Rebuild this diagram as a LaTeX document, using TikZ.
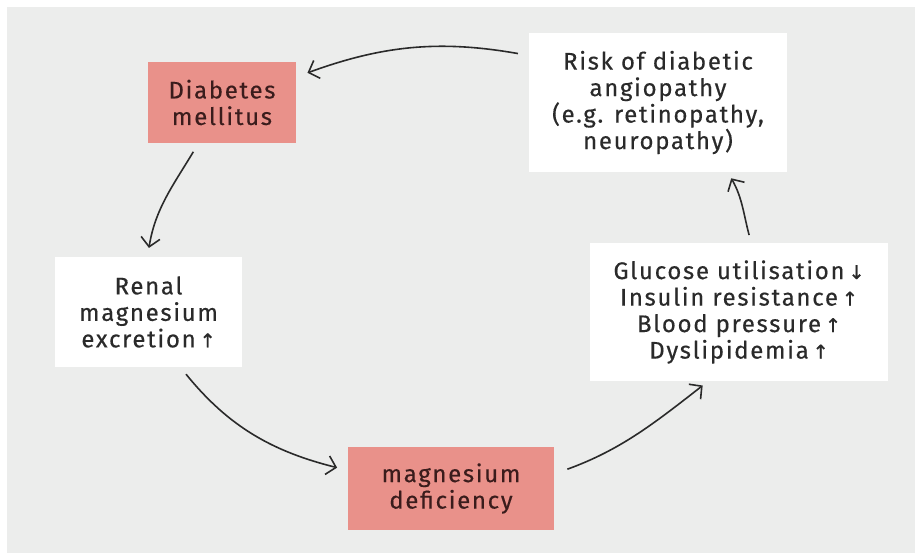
\documentclass[tikz,border=0pt]{standalone}
\usepackage{fontspec}
\setmainfont[LetterSpace=7,FakeBold=0.4]{Fira Sans}
\newfontfamily\arrfont[FakeBold=1.2]{DejaVu Sans}
\usetikzlibrary{arrows.meta}
\definecolor{bgcol}{HTML}{ECEDEC}
\definecolor{salmon}{HTML}{E9918A}
\definecolor{inkcol}{HTML}{2A2A2A}
\definecolor{redink}{HTML}{3A1C1C}
\newcommand{\arrUp}{{\arrfont\fontsize{19}{19}\selectfont ↑}}
\newcommand{\arrDown}{{\arrfont\fontsize{19}{19}\selectfont ↓}}
\begin{document}
\begin{tikzpicture}[x=1pt, y=-1pt,
  box/.style={rectangle, align=center, inner sep=0pt, text=inkcol,
    font=\fontsize{24}{26.5}\selectfont},
  whitebox/.style={box, fill=white},
  pinkbox/.style={box, fill=salmon, text=redink},
  flow/.style={-{Straight Barb[length=9pt,width=19pt]}, line width=1.6pt, draw=inkcol}]
	\useasboundingbox (0,0) rectangle (915,553);
	\fill[white] (0,0) rectangle (915,553);
	\fill[bgcol] (7,7) rectangle (915,553);
	% boxes
	\node[pinkbox, minimum width=148pt, minimum height=81pt] (diab) at (222,102.5) {Diabetes\\mellitus};
	\node[whitebox, minimum width=258pt, minimum height=139pt] (risk) at (658,102.5) {Risk of diabetic\\angiopathy\\(e.g. retinopathy,\\neuropathy)};
	\node[whitebox, minimum width=187pt, minimum height=110pt] (renal) at (148.5,312) {Renal\\magnesium\\excretion\,\arrUp};
	\node[whitebox, minimum width=298pt, minimum height=138pt] (gluc) at (739,312) {Glucose utilisation\,\arrDown\\Insulin resistance\,\arrUp\\Blood pressure\,\arrUp\\Dyslipidemia\,\arrUp};
	\node[pinkbox, minimum width=206pt, minimum height=83pt] (mgdef) at (451,488.5) {magnesium\\deficiency};
	% cycle
	\draw[flow, shorten <=11pt, shorten >=12pt] (risk.160) to[out=170, in=20] (diab.19);
	\draw[flow, shorten <=10pt, shorten >=9pt] (diab.240) to[out=239, in=81] (renal.91);
	\draw[flow, shorten <=9pt, shorten >=11pt] (renal.300) to[out=309, in=166] (mgdef.170);
	\draw[flow, shorten <=14pt, shorten >=7pt] (mgdef.8) to[out=20, in=218] (gluc.246);
	\draw[flow, shorten <=8pt, shorten >=7pt] (gluc.80) to[out=105, in=300] (risk.315);
\end{tikzpicture}
\end{document}
